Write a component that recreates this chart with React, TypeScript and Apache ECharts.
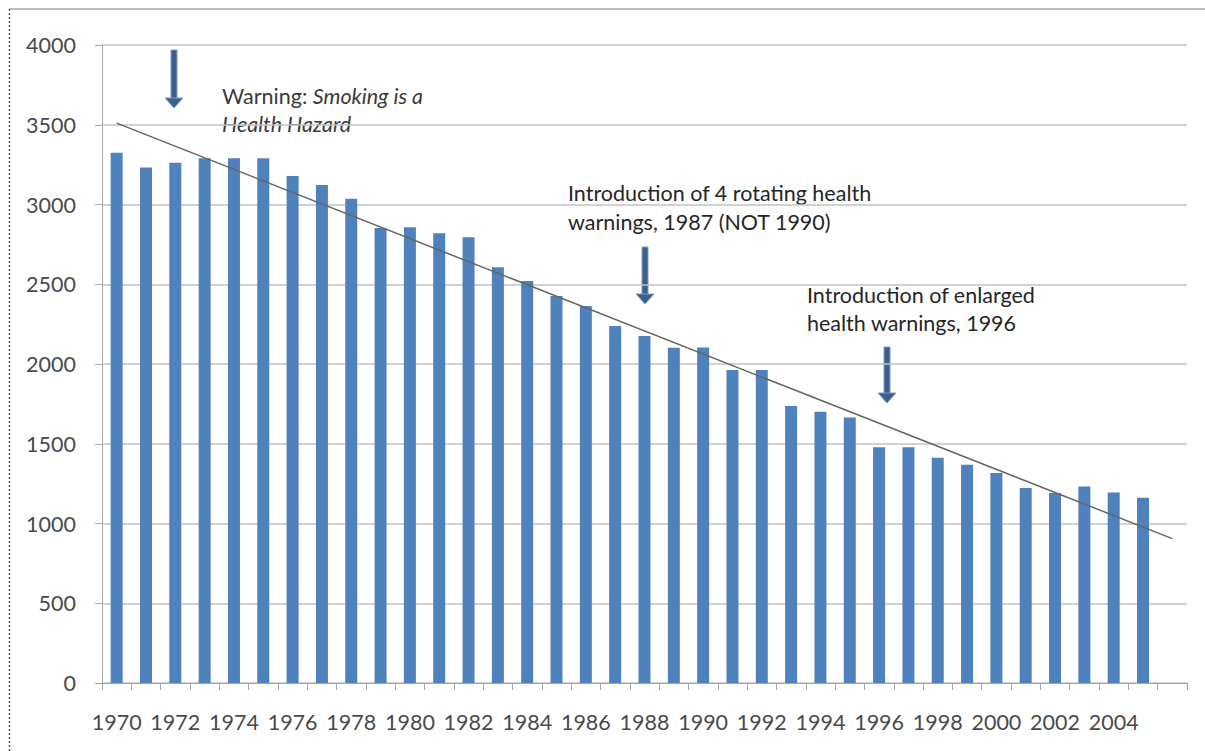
import React, { useEffect, useRef } from "react";
import * as echarts from "echarts";

const years: string[] = [
  "1970", "1971", "1972", "1973", "1974", "1975", "1976", "1977", "1978", "1979",
  "1980", "1981", "1982", "1983", "1984", "1985", "1986", "1987", "1988", "1989",
  "1990", "1991", "1992", "1993", "1994", "1995", "1996", "1997", "1998", "1999",
  "2000", "2001", "2002", "2003", "2004", "2005", "",
];

const consumption: (number | null)[] = [
  3325, 3232, 3262, 3290, 3290, 3290, 3179, 3123, 3036, 2852,
  2857, 2819, 2794, 2606, 2521, 2427, 2364, 2238, 2176, 2102,
  2104, 1962, 1962, 1737, 1701, 1665, 1478, 1478, 1412, 1368,
  1316, 1223, 1192, 1232, 1194, 1162, null,
];

const trendStart = 3510;
const trendEnd = 905;

const yTicks = { min: 0, max: 4000, interval: 500 };

const FONT = "Lato, 'Liberation Sans', sans-serif";
const FS = 21.5;

function arrow(cx: number, top: number, tip: number) {
  return {
    type: "group",
    children: [
      {
        type: "rect",
        shape: { x: cx - 3, y: top, width: 6, height: tip - top - 8 },
        style: { fill: "#3c5f8e", stroke: "#7f9cc0", lineWidth: 1 },
      },
      {
        type: "polygon",
        shape: { points: [[cx - 9, tip - 10], [cx + 9, tip - 10], [cx, tip]] },
        style: { fill: "#3c5f8e", stroke: "#7f9cc0", lineWidth: 1 },
      },
    ],
  };
}

function label(x: number, y: number, text: string, fill = "#262626") {
  return {
    type: "text",
    x,
    y,
    style: { text, fontFamily: FONT, fontSize: FS, fill, verticalAlign: "middle" },
  };
}

export default function App() {
  const ref = useRef<HTMLDivElement>(null);
  useEffect(() => {
    document.body.style.margin = "0";
    if (!ref.current) return;
    const chart = echarts.init(ref.current, undefined, { renderer: "svg" });
    const trendData = years.map((_, i) =>
      i === 0 ? trendStart : i === years.length - 1 ? trendEnd : null
    );
    chart.setOption({
      animation: false,
      backgroundColor: "#ffffff",
      grid: { left: 102, right: 18, top: 45, bottom: 68, containLabel: false },
      xAxis: {
        type: "category",
        data: years,
        boundaryGap: true,
        axisLine: { show: true, lineStyle: { color: "#a6a6a6", width: 1 } },
        axisTick: { show: true, interval: 0, length: 7, lineStyle: { color: "#a6a6a6" } },
        axisLabel: {
          interval: 1,
          margin: 28,
          color: "#4a4a4a",
          fontSize: FS,
          fontFamily: FONT,
        },
        splitLine: { show: false },
      },
      yAxis: {
        type: "value",
        min: yTicks.min,
        max: yTicks.max,
        interval: yTicks.interval,
        axisLine: { show: true, lineStyle: { color: "#a6a6a6", width: 1 } },
        axisTick: { show: true, length: 7, lineStyle: { color: "#a6a6a6" } },
        axisLabel: {
          margin: 26,
          color: "#4a4a4a",
          fontSize: FS,
          fontFamily: FONT,
          formatter: (v: number) => String(v),
        },
        splitLine: { show: true, lineStyle: { color: "#c3c3c3", width: 1.5 } },
      },
      series: [
        {
          type: "bar",
          data: consumption,
          barWidth: 12,
          itemStyle: { color: "#4f81bd" },
        },
        {
          type: "line",
          data: trendData,
          connectNulls: true,
          symbol: "none",
          lineStyle: { color: "#666666", width: 1.5 },
          z: 5,
        },
      ],
      graphic: [
        {
          type: "line",
          shape: { x1: 9, y1: 9, x2: 1205, y2: 9 },
          style: { stroke: "#a8a8a8", lineWidth: 1.5 },
        },
        {
          type: "line",
          shape: { x1: 9.5, y1: 9, x2: 9.5, y2: 751 },
          style: { stroke: "#555555", lineWidth: 1.5, lineDash: [2, 2] },
        },
        arrow(174, 50, 108),
        arrow(645, 247, 304),
        arrow(887, 347, 403),
        {
          type: "text",
          x: 222,
          y: 96,
          style: {
            rich: {
              n: { fontFamily: FONT, fontSize: FS, fill: "#3a3a3a" },
              i: { fontFamily: FONT, fontSize: FS, fill: "#3a3a3a", fontStyle: "italic" },
            },
            text: "{n|Warning: }{i|Smoking is a}",
            verticalAlign: "middle",
          },
        },
        {
          type: "text",
          x: 222,
          y: 124,
          style: {
            text: "Health Hazard",
            fontFamily: FONT,
            fontSize: FS,
            fontStyle: "italic",
            fill: "#3a3a3a",
            verticalAlign: "middle",
          },
        },
        label(568, 193, "Introduction of 4 rotating health"),
        label(568, 222, "warnings, 1987 (NOT 1990)"),
        label(807, 295, "Introduction of enlarged"),
        label(807, 323, "health warnings, 1996"),
      ],
    });
    return () => chart.dispose();
  }, []);
  return <div ref={ref} style={{ width: 1205, height: 751 }} />;
}
